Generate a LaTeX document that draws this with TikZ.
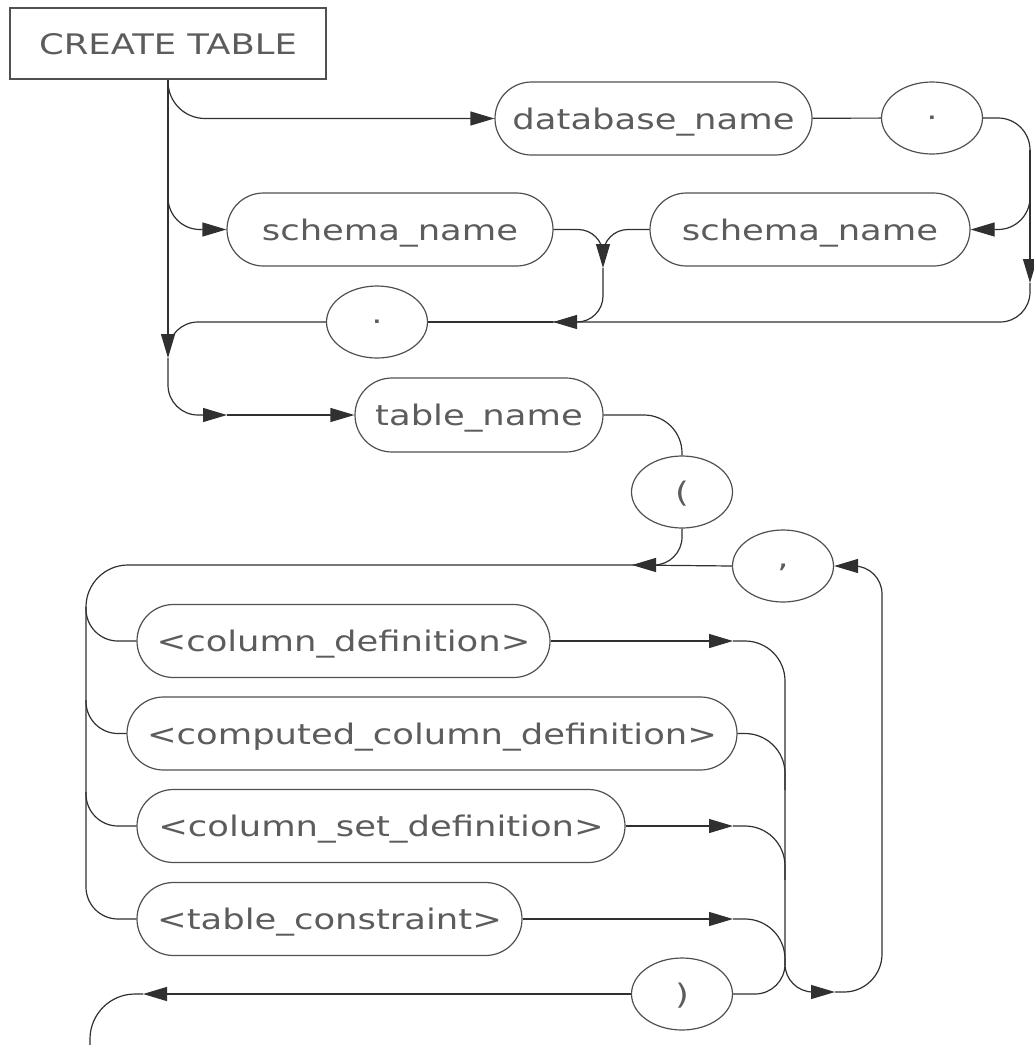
\documentclass[tikz,border=0pt]{standalone}
\usepackage{fontspec}
\newfontfamily\rrfont[FakeStretch=1.25]{DejaVu Sans}
\usetikzlibrary{shapes.geometric,shapes.misc,arrows.meta}
\definecolor{txtgrey}{HTML}{5C5C5C}
\definecolor{edgegrey}{HTML}{505050}
\definecolor{linegrey}{HTML}{303030}
\begin{document}
\begin{tikzpicture}[x=1pt,y=-1pt,
  base/.style={draw=edgegrey, line width=1.2pt, text=txtgrey, font=\rrfont\fontsize{28.3}{34}\selectfont, inner sep=0pt, text depth=0pt},
  boxnode/.style={base, rectangle, minimum width=316pt, minimum height=71pt},
  term/.style={base, rounded rectangle, minimum height=73pt},
  punct/.style={base, ellipse, minimum width=101pt, minimum height=72pt},
  conn/.style={draw=linegrey, line width=1.2pt},
  arr/.style={conn, -{Triangle[length=24pt,width=14pt]}},
]
\useasboundingbox (0,0) rectangle (1034,1045);

% nodes
\node[boxnode] (ct) at (168,43.5) {CREATE TABLE};
\node[term, minimum width=317pt] (db) at (653.5,118.5) {database\_name};
\node[punct] (dotA) at (932,118) {.};
\node[term, minimum width=326pt] (snA) at (390,229.5) {schema\_name};
\node[term, minimum width=320pt] (snB) at (810,229.5) {schema\_name};
\node[punct] (dotB) at (377,322) {.};
\node[term, minimum width=248pt, minimum height=74pt] (tn) at (479,415) {table\_name};
\node[punct] (lp) at (682,492) {(};
\node[punct] (cm) at (783,566) {,};
\node[term, minimum width=413pt] (cd) at (343.5,641) {<column\_definition>};
\node[term, minimum width=610pt] (ccd) at (432,733.5) {<computed\_column\_definition>};
\node[term, minimum width=488pt] (csd) at (381,826) {<column\_set\_definition>};
\node[term, minimum width=385pt] (tc) at (329.5,919) {<table\_constraint>};
\node[punct] (rp) at (682,994) {)};

% coordinates
\coordinate (jb) at (168,190);
\coordinate (j4) at (168,358);
\coordinate (j5) at (227,415);
\coordinate (k4) at (168,352);
\coordinate (rc) at (1030,118);
\coordinate (rv) at (1030,150);
\coordinate (j3) at (1030,283);
\coordinate (j2) at (553,322);
\coordinate (m1) at (603,255);
\coordinate (j1) at (603,268);
\coordinate (k1) at (652,565);
\coordinate (j6) at (632,565);
\coordinate (L) at (86,883);
\coordinate (b1) at (86,607);
\coordinate (b2) at (86,700);
\coordinate (b3) at (86,792);
\coordinate (a1) at (733,641);
\coordinate (a3) at (733,826);
\coordinate (a4) at (733,919);
\coordinate (v1) at (785,790);
\coordinate (v2) at (785,964);
\coordinate (v3) at (785,880);
\coordinate (k2) at (813,992);
\coordinate (a5) at (835,992);
\coordinate (rm) at (882,780);
\coordinate (k3) at (854,566);
\coordinate (a6) at (143,994);
\coordinate (e1) at (90,1045);

% upper part
\draw[arr] (ct.south) -- (j4);
\draw[arr, rounded corners=37pt] (ct.south) |- (db.west);
\draw[arr, rounded corners=32pt] (jb) |- (snA.west);
\draw[arr, rounded corners=30pt] (j4) |- (j5);
\draw[arr] (j5) -- (tn.west);
\draw[conn] (db) -- (dotA);
\draw[arr, rounded corners=32pt] (dotA.east) -- (rc) |- (snB.east);
\draw[arr] (rv) -- (j3);
\draw[conn, rounded corners=30pt] (j3) |- (j2);
\draw[conn, rounded corners=25pt] (snA.east) -| (m1);
\draw[conn, rounded corners=25pt] (snB.west) -| (m1);
\draw[arr] (m1) -- (j1);
\draw[arr, rounded corners=26pt] (j1) |- (j2);
\draw[conn] (j2) -- (dotB.east);
\draw[conn, rounded corners=30pt] (dotB.west) -| (k4);

% middle
\draw[conn, rounded corners=38pt] (tn.east) -| (lp.north);
\draw[conn, rounded corners=28pt] (lp.south) |- (k1);
\draw[arr] (k1) -- (j6);
\draw[conn] (cm.west) -- (j6);

% left loop
\draw[conn, rounded corners=42pt] (j6) -| (L);
\draw[conn, rounded corners=32pt] (b1) |- (cd.west);
\draw[conn, rounded corners=32pt] (b2) |- (ccd.west);
\draw[conn, rounded corners=32pt] (b3) |- (csd.west);
\draw[conn, rounded corners=32pt] (L) |- (tc.west);

% right side
\draw[arr] (cd.east) -- (a1);
\draw[arr] (csd.east) -- (a3);
\draw[arr] (tc.east) -- (a4);
\draw[conn, rounded corners=40pt] (a1) -| (v2);
\draw[conn, rounded corners=40pt] (ccd.east) -| (v1);
\draw[conn, rounded corners=40pt] (a3) -| (v3);
\draw[conn, rounded corners=40pt] (a4) -| (v2);
\draw[conn, rounded corners=30pt] (rp.east) -| (v2);
\draw[conn, rounded corners=28pt] (v2) |- (k2);
\draw[arr] (k2) -- (a5);
\draw[conn, rounded corners=38pt] (a5) -| (rm);
\draw[conn, rounded corners=28pt] (rm) |- (k3);
\draw[arr] (k3) -- (cm.east);

% exit
\draw[arr] (rp.west) -- (a6);
\draw[conn, rounded corners=45pt] (a6) -| (e1);
\end{tikzpicture}
\end{document}
